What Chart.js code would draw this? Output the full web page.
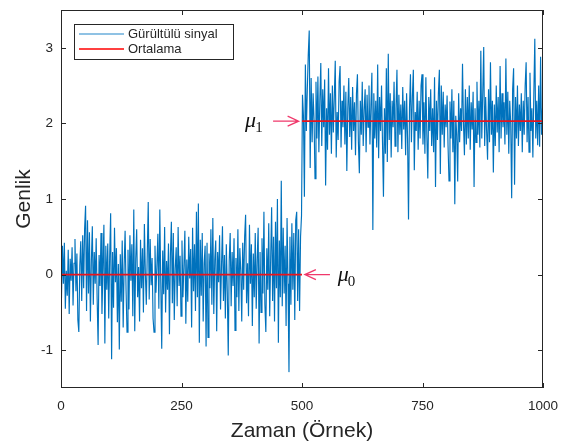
<!DOCTYPE html>
<html>
<head>
<meta charset="utf-8">
<script src="https://cdn.jsdelivr.net/npm/chart.js@4/dist/chart.umd.min.js"></script>
<style>
  html, body { margin: 0; padding: 0; background: #fff; }
  #wrap { width: 563px; height: 444px; }
</style>
</head>
<body>
<div id="wrap"><canvas id="sinyalChart"></canvas></div>
<script>
// sinyal, ilk yari (ornek 1..499, 2'ser adim)
const sinyalOnce = [
  -0.31, 0.38, -0.12, 0.42, -0.45, 0.05, -0.28, 0.33, -0.52, 0.21,
  -0.08, 0.36, -0.41, 0.15, 0.47, -0.22, 0.28, -0.6, -0.76, 0.12,
  0.44, -0.35, 0.52, -0.18, 0.61, 0.91, -0.48, 0.72, -0.25, 0.56,
  -0.62, 0.18, 0.64, -0.4, 0.3, -0.12, 0.48, -0.33, -0.93, 0.26,
  -0.15, 0.55, -0.52, 0.09, 0.66, -0.91, 0.38, -0.2, 0.41, -0.58,
  0.24, 0.81, -1.12, 0.3, -0.44, 0.62, -0.1, 0.35, -0.63, 0.14,
  -0.99, 0.27, -0.36, 0.45, -0.7, 0.12, 0.58, -0.21, -0.76, 0.33,
  -0.46, 0.52, -0.08, 0.4, -0.55, 0.86, -0.75, 0.21, 0.6, -0.3,
  0.1, -0.62, 0.46, -0.18, 0.35, -0.5, 0.67, 0.02, -0.4, 0.28,
  0.96, -0.33, 0.47, -0.14, 0.22, -0.58, -0.76, 0.38, -0.24, 0.12,
  0.54, -0.45, 0.86, -0.1, -0.98, 0.32, -0.26, 0.63, -0.5, 0.18,
  -0.2, 0.41, -0.79, 0.27, 0.7, -0.38, 0.55, -0.6, 0.08, 0.36,
  -0.42, 0.63, -0.15, 0.25, -0.55, 0.45, -0.3, 0.12, 0.58, -0.65,
  0.2, -0.36, 0.5, -0.05, 0.34, -0.7, 0.62, -0.22, 0.4, -0.48,
  0.83, -0.3, 0.94, -0.9, 0.46, -0.28, 0.55, -0.62, 0.15, 0.38,
  -0.95, 0.42, -0.83, 0.28, -0.18, 0.6, -0.4, 0.75, -0.52, 0.2,
  0.45, -0.75, 0.3, -0.1, 0.52, -0.46, 0.12, 0.64, -0.35, 0.26,
  -0.58, 0.4, -0.22, -1.07, 0.18, 0.55, -0.42, 0.3, -0.15, 0.48,
  -0.74, 0.22, -0.3, 0.6, -0.48, 0.35, 0.05, -0.62, 0.42, -0.2,
  0.5, 0.79, -0.38, 0.15, -0.55, 0.66, -0.12, 0.4, -0.68, 0.28,
  -0.3, 0.55, -0.45, 0.2, 0.62, -0.91, 0.3, -0.5, 0.48, -0.25,
  0.83, -0.4, -0.76, 0.35, -0.2, 0.68, -0.55, 0.22, 0.89, -0.35,
  0.5, -0.62, 0.7, -0.18, 1.0, -0.9, 0.45, -0.3, 1.24, -0.42,
  0.62, -0.25, 0.38, -0.68, 0.75, -0.12, -1.29, 0.5, -0.4, 0.68,
  -0.2, 0.55, -0.6, 0.72, 0.83, -0.35, 0.6, -0.48, 0.5, 0.78
];
// sinyal, ikinci yari (ornek 501..999)
const sinyalSonra = [
  2.38, 2.1, 1.03, 2.78, 1.9, 2.45, 2.91, 3.23, 1.41, 2.6,
  1.75, 2.4, 2.05, 1.27, 2.55, 1.8, 2.62, 1.62, 2.3, 2.8,
  1.7, 2.45, 1.95, 2.58, 1.18, 2.2, 1.65, 2.73, 1.85, 2.4,
  1.6, 2.5, 1.88, 2.35, 2.83, 1.55, 2.15, 1.78, 2.55, 2.76,
  1.68, 2.3, 1.95, 2.5, 1.72, 2.42, 1.37, 2.2, 2.6, 1.82,
  2.35, 1.65, 2.48, 1.9, 2.28, 1.58, 2.4, 2.65, 1.75, 1.34,
  2.3, 1.85, 2.55, 1.7, 2.18, 2.45, 1.62, 2.38, 1.95, 2.5,
  1.72, 2.25, 2.67, 0.59, 2.4, 1.8, 2.3, 1.68, 2.78, 1.54,
  2.35, 1.9, 2.5, 1.75, 1.03, 2.2, 1.6, 2.73, 1.49, 2.92,
  1.78, 2.4, 1.55, 2.3, 1.95, 2.55, 1.7, 2.2, 2.71, 1.62,
  2.38, 1.85, 2.25, 1.66, 2.48, 1.92, 2.3, 1.58, 2.4, 1.8,
  0.73, 2.2, 2.65, 1.75, 2.35, 2.71, 1.38, 2.15, 1.9, 2.42,
  1.65, 2.3, 1.8, 2.5, 2.65, 1.72, 2.28, 1.6, 2.61, 1.85,
  1.27, 2.35, 1.9, 2.45, 1.7, 2.2, 1.62, 2.61, 1.16, 2.3,
  1.78, 2.4, 2.71, 1.33, 2.5, 1.85, 2.42, 1.68, 2.25, 1.95,
  2.37, 1.7, 1.24, 2.29, 1.8, 2.45, 1.62, 2.3, 0.93, 2.1,
  1.85, 1.23, 2.4, 1.75, 2.2, 1.9, 2.79, 2.0, 1.58, 2.45,
  1.72, 2.35, 1.8, 2.5, 1.65, 2.28, 1.92, 2.42, 1.16, 2.2,
  1.75, 2.55, 1.85, 2.3, 1.68, 2.96, 1.8, 2.4, 3.01, 1.7,
  2.35, 1.9, 1.52, 2.45, 1.75, 2.81, 1.85, 2.3, 1.35, 2.25,
  1.7, 2.5, 1.88, 2.35, 1.62, 2.76, 1.8, 2.4, 1.95, 2.28,
  1.72, 2.86, 1.85, 2.42, 1.6, 2.3, 2.0, 1.01, 2.45, 2.73,
  1.19, 2.35, 1.8, 2.5, 1.7, 2.25, 1.9, 2.4, 1.62, 2.3,
  1.85, 2.5, 2.81, 1.75, 2.35, 1.62, 2.67, 1.9, 2.2, 1.55,
  2.4, 3.12, 1.8, 2.3, 1.71, 2.5, 1.69, 2.88, 1.85, 2.2
];
const ortalamalar = [0.0, 2.03];      // mu0, mu1
const bolumSinirlari = [0, 500, 1000];
const xTikleri = [0, 250, 500, 750, 1000];
const yTikleri = [-1, 0, 1, 2, 3];
// etiket konumlari (veri birimi)
const muEtiketleri = [
  { ad: '0', metinX: 574, kuyrukX: 558, ucX: 506, y: 0.0 },
  { ad: '1', metinX: 382, kuyrukX: 440, ucX: 493, y: 2.03 }
];

const sinyal = sinyalOnce.concat(sinyalSonra);
const sinyalNoktalari = sinyal.map((v, i) => ({ x: 2 * i + 1, y: v }));
const ortalamaNoktalari = [
  { x: bolumSinirlari[0], y: ortalamalar[0] },
  { x: bolumSinirlari[1], y: ortalamalar[0] },
  { x: bolumSinirlari[1], y: null },
  { x: bolumSinirlari[1], y: ortalamalar[1] },
  { x: bolumSinirlari[2], y: ortalamalar[1] }
];

const axisColor = '#262626';
const mavi = '#0072BD';
const ucRenk = '#f0386b';

const cerceve = {
  id: 'cerceve',
  afterDraw(chart) {
    const { ctx, chartArea: a, scales } = chart;
    ctx.save();
    ctx.strokeStyle = axisColor;
    ctx.lineWidth = 1;
    ctx.strokeRect(a.left + 0.5, a.top + 0.5, a.right - a.left - 1, a.bottom - a.top - 1);
    ctx.beginPath();
    xTikleri.forEach(v => {
      const px = Math.round(scales.x.getPixelForValue(v)) + 0.5;
      ctx.moveTo(px, a.bottom); ctx.lineTo(px, a.bottom - 5);
      ctx.moveTo(px, a.top); ctx.lineTo(px, a.top + 5);
    });
    yTikleri.forEach(v => {
      const py = Math.round(scales.y.getPixelForValue(v)) + 0.5;
      ctx.moveTo(a.left, py); ctx.lineTo(a.left + 5, py);
      ctx.moveTo(a.right, py); ctx.lineTo(a.right - 5, py);
    });
    ctx.stroke();

    // lejant
    const lx = a.left + 13, ly = a.top + 14, lw = 159, lh = 35;
    ctx.fillStyle = '#fff';
    ctx.fillRect(lx, ly, lw, lh);
    ctx.strokeStyle = axisColor;
    ctx.strokeRect(lx + 0.5, ly + 0.5, lw, lh);
    const satirlar = [['Gürültülü sinyal', '#6aaedb', 1.3], ['Ortalama', 'red', 1.3]];
    ctx.font = '13px "Liberation Sans", Arial, sans-serif';
    ctx.textBaseline = 'middle';
    satirlar.forEach((s, i) => {
      const yy = ly + 10 + i * 15;
      ctx.strokeStyle = s[1];
      ctx.lineWidth = s[2];
      ctx.beginPath();
      ctx.moveTo(lx + 5, yy); ctx.lineTo(lx + 50, yy);
      ctx.stroke();
      ctx.fillStyle = axisColor;
      ctx.fillText(s[0], lx + 54, yy);
    });

    // mu etiketleri ve oklar
    muEtiketleri.forEach(m => {
      const py = scales.y.getPixelForValue(m.y);
      const tx = scales.x.getPixelForValue(m.metinX);
      const kx = scales.x.getPixelForValue(m.kuyrukX);
      const ux = scales.x.getPixelForValue(m.ucX);
      ctx.fillStyle = '#111';
      ctx.textBaseline = 'alphabetic';
      ctx.font = 'italic 22px "Liberation Serif", "Times New Roman", serif';
      ctx.fillText('μ', tx, py + 6);
      const w = ctx.measureText('μ').width;
      ctx.font = '15px "Liberation Serif", "Times New Roman", serif';
      ctx.fillText(m.ad, tx + w - 1, py + 11);
      ctx.strokeStyle = ucRenk;
      ctx.lineWidth = 1.3;
      const yon = Math.sign(ux - kx);
      ctx.beginPath();
      ctx.moveTo(kx, py); ctx.lineTo(ux, py);
      ctx.moveTo(ux - yon * 11, py - 5); ctx.lineTo(ux, py); ctx.lineTo(ux - yon * 11, py + 5);
      ctx.stroke();
    });
    ctx.restore();
  }
};

const sifirPadding = s => { s.paddingLeft = 0; s.paddingRight = 0; s.paddingTop = 0; s.paddingBottom = 0; };
const tickFont = { family: '"Liberation Sans", Arial, sans-serif', size: 13.5 };
const titleFont = { family: '"Liberation Sans", Arial, sans-serif', size: 21 };

new Chart(document.getElementById('sinyalChart'), {
  type: 'line',
  data: {
    datasets: [
      {
        label: 'Gürültülü sinyal',
        data: sinyalNoktalari,
        borderColor: mavi,
        borderWidth: 1.15,
        pointRadius: 0,
        tension: 0,
        order: 2
      },
      {
        label: 'Ortalama',
        data: ortalamaNoktalari,
        borderColor: '#e8141c',
        borderWidth: 1.8,
        pointRadius: 0,
        spanGaps: false,
        order: 1
      }
    ]
  },
  options: {
    responsive: true,
    maintainAspectRatio: false,
    animation: false,
    layout: { padding: { top: 10, right: 20, left: 0, bottom: 0 } },
    plugins: { legend: { display: false }, tooltip: { enabled: false } },
    scales: {
      x: {
        type: 'linear',
        min: 0, max: 1000,
        afterBuildTicks: s => { s.ticks = xTikleri.map(v => ({ value: v })); },
        afterFit: s => { s.height = 56; sifirPadding(s); },
        grid: { display: false, drawTicks: false },
        border: { display: false },
        ticks: { color: axisColor, font: tickFont, padding: 10, maxRotation: 0, callback: v => String(v) },
        title: { display: true, text: 'Zaman (Örnek)', color: axisColor, font: titleFont, padding: { top: 4, bottom: 0 } }
      },
      y: {
        min: -1.5, max: 3.5,
        afterBuildTicks: s => { s.ticks = yTikleri.map(v => ({ value: v })); },
        afterFit: s => { s.width = 61; sifirPadding(s); },
        grid: { display: false, drawTicks: false },
        border: { display: false },
        ticks: { color: axisColor, font: tickFont, padding: 8 },
        title: { display: true, text: 'Genlik', color: axisColor, font: titleFont, padding: { top: 12, bottom: 0 } }
      }
    }
  },
  plugins: [cerceve]
});
</script>
</body>
</html>
